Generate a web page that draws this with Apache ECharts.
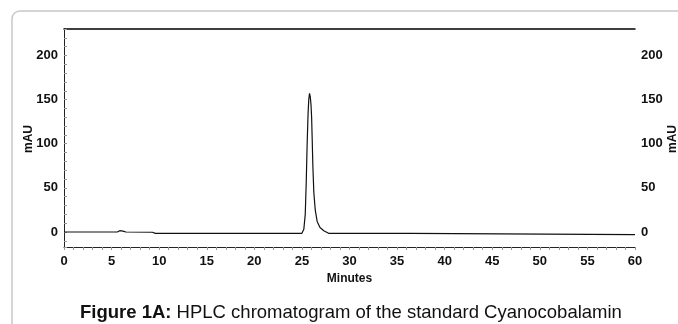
<!DOCTYPE html>
<html>
<head>
<meta charset="utf-8">
<script src="https://cdn.jsdelivr.net/npm/echarts@6/dist/echarts.min.js"></script>
<style>html,body{margin:0;padding:0;background:#fff;}#c{width:678px;height:324px;}</style>
</head>
<body>
<div id="c"></div>
<script>
// Retention time (minutes) and absorbance (mAU)
const minutes = [0, 5.6, 5.85, 6.0, 6.2, 6.5, 9.3, 9.6, 25.0, 25.2, 25.35, 25.45, 25.55, 25.65, 25.72, 25.8, 25.88, 25.95, 26.02, 26.08, 26.15, 26.25, 26.4, 26.6, 26.9, 27.3, 27.8, 36.4, 36.6, 60];
const mAU = [0, 0, 1.5, 3, 1, 0, -0.3, -1.5, -1.5, 3, 20, 55, 100, 135, 150, 157, 153, 145, 130, 105, 75, 45, 25, 12, 5, 1.5, -1.5, -1.5, -3, -3];
const xTicks = [0, 5, 10, 15, 20, 25, 30, 35, 40, 45, 50, 55, 60];
const yTicks = [0, 50, 100, 150, 200];
const yName = 'mAU';

const data = minutes.map((t, i) => [t, mAU[i]]);
const FONT = 'Liberation Sans, Arial, sans-serif';
const chart = echarts.init(document.getElementById('c'), null, {renderer: 'canvas'});
const yFmt = v => yTicks.indexOf(v) >= 0 ? String(v) : '';
const yCommon = {
  type: 'value', min: -17, max: 230, splitNumber: 5,
  splitLine: {show: false},
  axisLine: {show: true, lineStyle: {color: '#222', width: 1}},
  axisTick: {show: true, inside: true, length: 3, lineStyle: {color: '#999'}},
  minorTick: {show: true, splitNumber: 5, length: 3, lineStyle: {color: '#999'}},
  axisLabel: {formatter: yFmt, color: '#111', fontWeight: 'bold', fontSize: 13, fontFamily: FONT, margin: 6, showMinLabel: false, showMaxLabel: false}
};
const nameStyle = {text: yName, fill: '#111', font: 'bold 12px ' + FONT, align: 'center', verticalAlign: 'middle'};
chart.setOption({
  animation: false,
  backgroundColor: '#fff',
  graphic: [{
    type: 'rect', shape: {x: 12, y: 11, width: 700, height: 340, r: 8},
    style: {fill: 'none', stroke: '#c8c8c8', lineWidth: 1.5}, z: -10
  }, {
    type: 'text', x: 29, y: 139, rotation: Math.PI / 2, style: nameStyle
  }, {
    type: 'text', x: 673, y: 139, rotation: Math.PI / 2, style: nameStyle
  }],
  title: {
    text: '{b|Figure 1A:} HPLC chromatogram of the standard Cyanocobalamin',
    left: 80, top: 303, padding: 0,
    textStyle: {
      fontFamily: FONT, fontSize: 18.5, fontWeight: 'normal', color: '#111',
      rich: {b: {fontFamily: FONT, fontSize: 18.5, fontWeight: 'bold', color: '#111'}}
    }
  },
  grid: {left: 64, right: 43, top: 29, bottom: 77, containLabel: false, outerBoundsMode: 'none'},
  xAxis: [{
    type: 'value', min: 0, max: 60, interval: 5,
    splitLine: {show: false},
    axisLine: {show: true, onZero: false, lineStyle: {color: '#222', width: 1}},
    axisTick: {show: true, length: 3, lineStyle: {color: '#999'}},
    minorTick: {show: true, splitNumber: 5, length: 3, lineStyle: {color: '#999'}},
    axisLabel: {formatter: v => xTicks.indexOf(v) >= 0 ? String(v) : '', color: '#111', fontWeight: 'bold', fontSize: 13, fontFamily: FONT, margin: 8},
    name: 'Minutes', nameLocation: 'middle', nameGap: 26,
    nameTextStyle: {color: '#111', fontWeight: 'bold', fontSize: 12, fontFamily: FONT}
  }, {
    type: 'value', min: 0, max: 60, position: 'top',
    splitLine: {show: false},
    axisLine: {show: true, onZero: false, lineStyle: {color: '#000', width: 1.5}},
    axisTick: {show: false}, axisLabel: {show: false}
  }],
  yAxis: [
    Object.assign({}, yCommon, {position: 'left'}),
    Object.assign({}, yCommon, {position: 'right',
      axisTick: {show: true, inside: false, length: 3, lineStyle: {color: '#999'}}})
  ],
  series: [{
    type: 'line', data: data, xAxisIndex: 0, yAxisIndex: 0,
    showSymbol: false, symbol: 'none',
    lineStyle: {color: '#111', width: 1.2}
  }]
});
</script>
</body>
</html>
